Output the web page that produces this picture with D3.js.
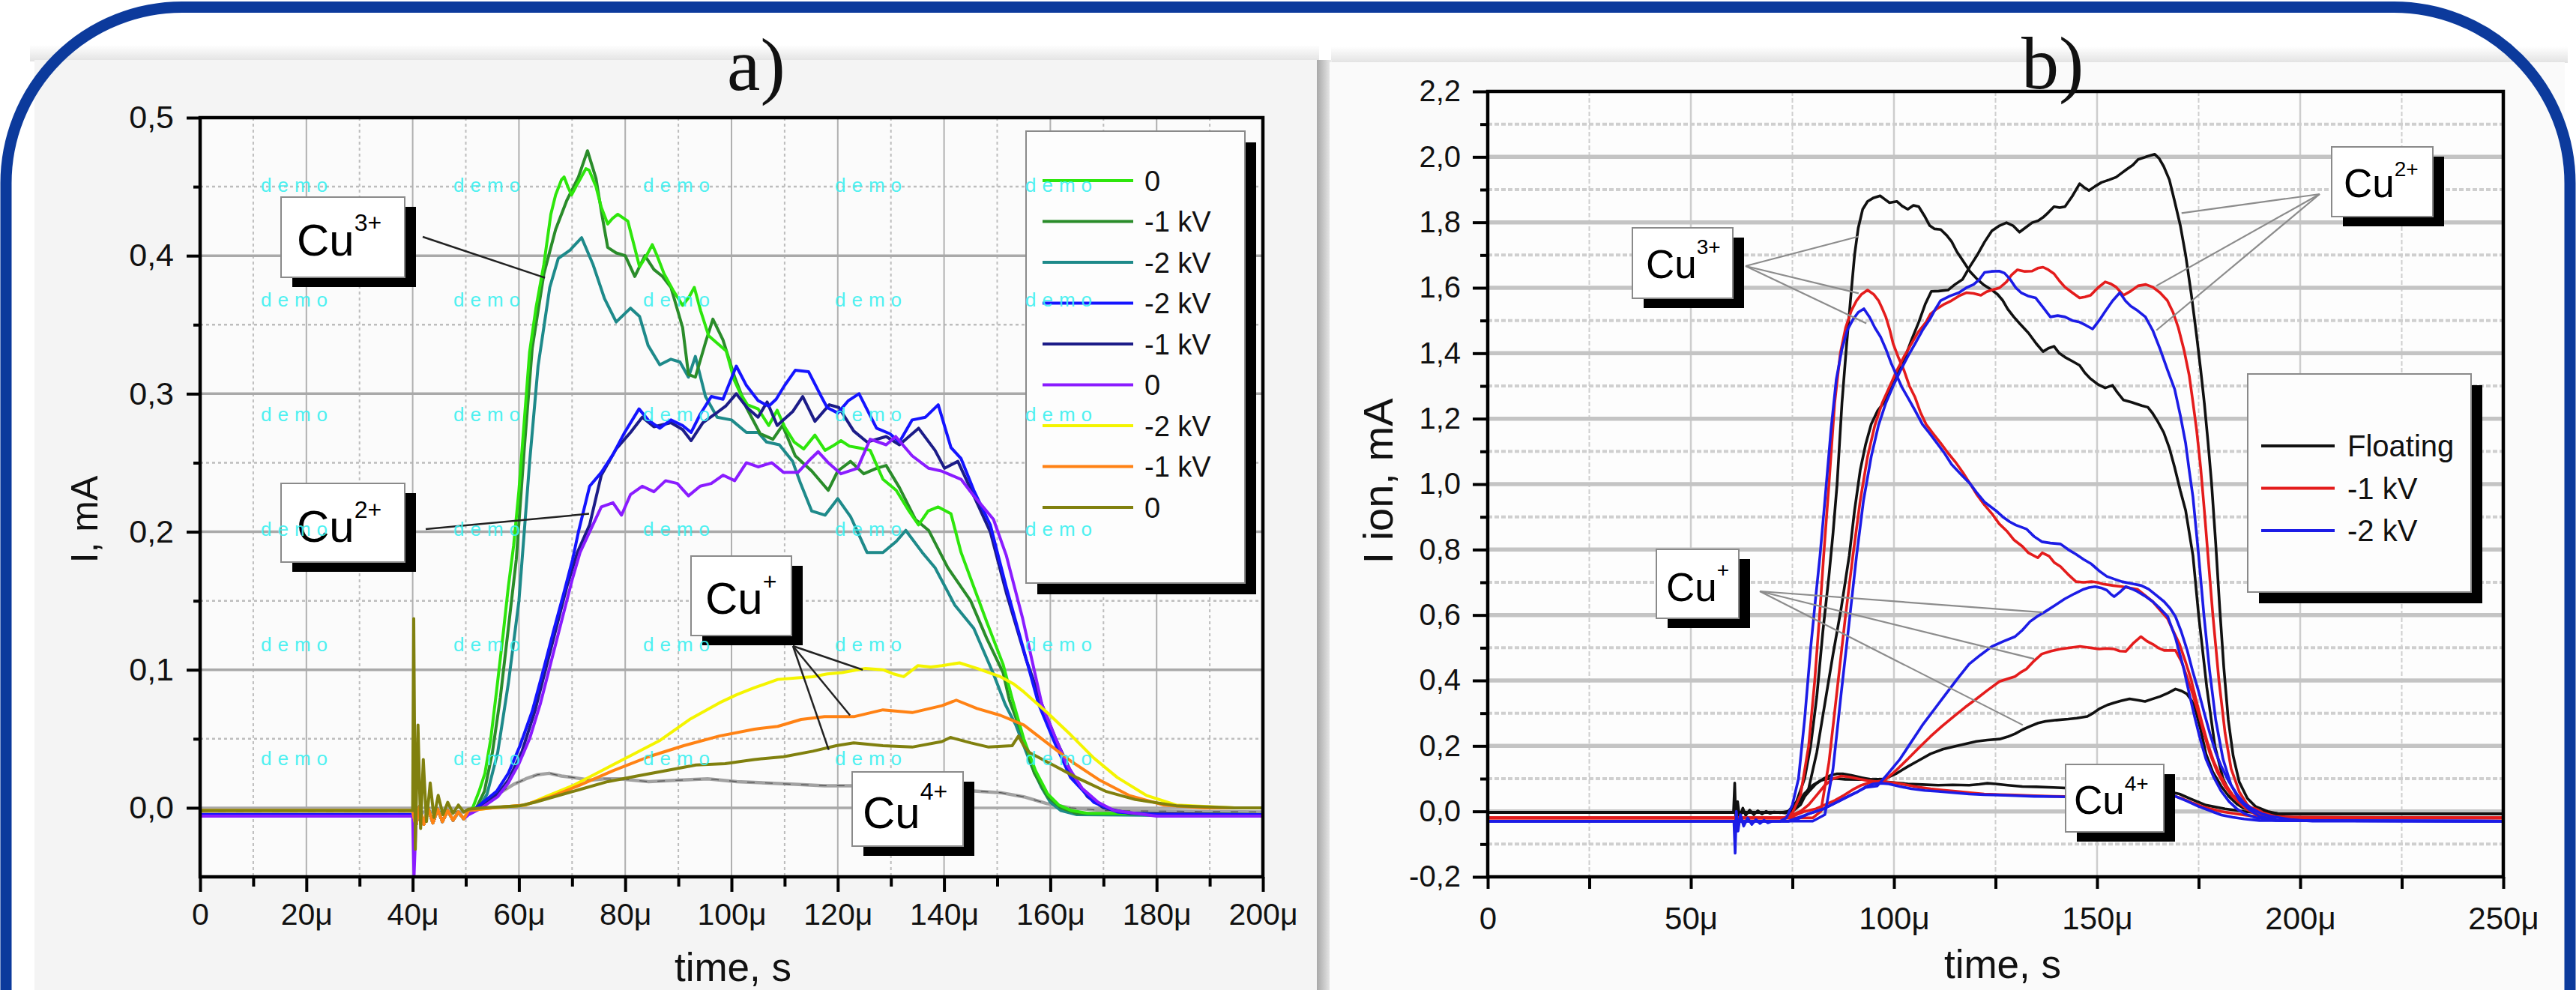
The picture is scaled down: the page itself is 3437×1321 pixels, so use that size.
<!DOCTYPE html>
<html><head><meta charset="utf-8">
<script src="https://cdn.jsdelivr.net/npm/d3@7"></script>
<style>html,body{margin:0;padding:0;background:#fff;overflow:hidden}</style>
</head><body>
<script>
// ================= DATA (time in µs, current in mA) =================
// ---- Panel a ----
const xTicksA = [0,20,40,60,80,100,120,140,160,180,200];
const xMinorA = [10,30,50,70,90,110,130,150,170,190];
const yTicksA = [0,0.1,0.2,0.3,0.4,0.5];
const yMinorA = [0.05,0.15,0.25,0.35,0.45];
const legendA = ["0","-1 kV","-2 kV","-2 kV","-1 kV","0","-2 kV","-1 kV","0"];
const ringA = [[40.6,-0.013],[41.3,0.001],[42.1,-0.012],[42.9,0.0],[43.8,-0.011],[44.7,-0.001],[45.6,-0.010],[46.6,-0.002],[47.6,-0.009],[48.6,-0.003],[49.6,-0.008]];
const a_green = [[0,-0.005],[40,-0.005],...ringA,[50.5,-0.004],[51.4,0.001],[52.5,0.012],[53.6,0.025],[54.7,0.05],[55.8,0.085],[57,0.125],[58,0.16],[59,0.19],[60,0.23],[61,0.28],[62,0.33],[63.2,0.362],[64.7,0.394],[66,0.43],[66.9,0.444],[68,0.455],[68.5,0.457],[69.2,0.45],[69.9,0.444],[71,0.452],[72.6,0.463],[73.2,0.462],[74.5,0.45],[75.5,0.435],[76.7,0.423],[77.6,0.427],[78.6,0.43],[80.5,0.425],[81.5,0.41],[82.7,0.392],[84,0.4],[85.1,0.408],[86,0.4],[87.3,0.387],[89,0.375],[90.8,0.364],[92,0.37],[93,0.377],[94.2,0.36],[95.7,0.342],[97.2,0.337],[99,0.331],[100.5,0.31],[101.7,0.3],[103,0.292],[105,0.289],[107,0.277],[108.6,0.288],[110,0.276],[111.8,0.265],[113.6,0.26],[115.7,0.27],[117.6,0.259],[119,0.262],[120.6,0.266],[122.2,0.262],[123.7,0.261],[126.1,0.259],[128.5,0.238],[131,0.23],[133.4,0.215],[135.2,0.205],[137,0.215],[138.9,0.218],[141.3,0.213],[143.2,0.185],[145.6,0.16],[148,0.135],[151.1,0.104],[152.9,0.078],[155,0.05],[157.2,0.027],[159.5,0.01],[161.6,0.002],[164,-0.002],[167,-0.004],[200,-0.005]];
const a_dkgreen = [[0,-0.005],[40,-0.005],...ringA,[50.5,-0.004],[52,0.0],[53.5,0.012],[55,0.04],[56.5,0.08],[58,0.13],[59.5,0.18],[61,0.26],[62.5,0.333],[64.7,0.387],[66.9,0.419],[69,0.44],[71.2,0.457],[72.9,0.476],[74.5,0.456],[75.6,0.43],[76.7,0.406],[78.3,0.402],[80,0.4],[81.8,0.385],[83.7,0.4],[85.4,0.39],[87,0.385],[88.6,0.377],[90.8,0.348],[91.9,0.314],[93.2,0.312],[95.1,0.337],[96.5,0.354],[98.4,0.339],[100.6,0.312],[102.8,0.29],[105.4,0.271],[107.8,0.267],[109.6,0.277],[112,0.255],[115.1,0.244],[118.2,0.23],[120,0.244],[122.4,0.251],[124.9,0.242],[127.3,0.246],[129.1,0.248],[131.6,0.232],[134.6,0.209],[137.1,0.201],[140.7,0.174],[145,0.15],[148,0.123],[151.1,0.098],[152.3,0.078],[154.5,0.055],[157,0.025],[159.5,0.008],[162,0.0],[165,-0.004],[200,-0.005]];
const a_teal = [[0,-0.005],[40,-0.005],...ringA,[50.5,-0.004],[52.5,0.0],[54,0.01],[56,0.04],[58,0.09],[60,0.15],[62,0.25],[63.6,0.32],[65.8,0.377],[67.4,0.398],[69.6,0.404],[71.8,0.413],[73.9,0.394],[76.1,0.369],[78.3,0.352],[81,0.362],[82.7,0.356],[84.3,0.335],[86.5,0.321],[88.6,0.325],[90.3,0.323],[91.9,0.312],[93.2,0.327],[95.1,0.298],[97.3,0.283],[100,0.281],[102.8,0.272],[105,0.272],[106.6,0.265],[109,0.263],[111.5,0.251],[113,0.235],[115.1,0.215],[117.6,0.212],[120,0.224],[122.4,0.211],[125.5,0.185],[128.5,0.185],[131,0.193],[132.8,0.201],[135.9,0.185],[138.3,0.174],[142,0.147],[145.6,0.13],[149.3,0.097],[151.5,0.075],[153.5,0.06],[155,0.045],[156.5,0.03],[158.3,0.015],[160,0.004],[162,-0.002],[165,-0.005],[200,-0.006]];
const a_blue = [[0,-0.005],[40,-0.005],...ringA,[50.5,-0.004],[52,0.0],[55.8,0.012],[58,0.025],[60.2,0.045],[62.5,0.07],[64.6,0.1],[66.5,0.128],[68.4,0.155],[70.1,0.18],[71.2,0.2],[73.3,0.233],[75.5,0.243],[77.7,0.256],[79.9,0.272],[82.6,0.289],[84.3,0.281],[86.5,0.275],[88.6,0.281],[90.8,0.277],[92.4,0.272],[94.1,0.285],[96.2,0.298],[98.4,0.296],[100.9,0.32],[102.8,0.306],[105,0.295],[107,0.291],[108.4,0.296],[110,0.306],[112,0.317],[114.5,0.316],[116.9,0.298],[118,0.29],[120,0.286],[122,0.295],[124,0.3],[127.3,0.275],[129.8,0.271],[131.6,0.265],[134,0.281],[136.5,0.283],[138.9,0.292],[141.3,0.261],[143.2,0.253],[145.6,0.23],[148.7,0.205],[151.7,0.16],[154.8,0.117],[157.8,0.075],[160.5,0.05],[163.8,0.022],[168.2,0.004],[172.6,-0.003],[180,-0.005],[200,-0.005]];
const a_navy = [[0,-0.005],[40,-0.005],...ringA,[50.5,-0.004],[52,0.0],[56,0.01],[58,0.02],[60.5,0.04],[63,0.07],[65,0.1],[67,0.13],[69,0.16],[71,0.185],[73.3,0.205],[75.5,0.241],[78.3,0.26],[81,0.272],[83.2,0.283],[85.4,0.276],[88.6,0.279],[90.8,0.274],[92.4,0.266],[94.6,0.279],[96.8,0.285],[98.9,0.291],[100.9,0.3],[102.9,0.29],[105,0.283],[106.7,0.294],[108.6,0.277],[111.5,0.287],[113.4,0.298],[115.7,0.28],[118.4,0.292],[120.2,0.29],[123,0.273],[125.5,0.265],[129.1,0.269],[131.6,0.263],[135.2,0.275],[138.3,0.259],[140.1,0.246],[142.6,0.251],[145.6,0.226],[148.7,0.2],[151.7,0.156],[155.4,0.108],[158.4,0.075],[161,0.05],[164,0.025],[167,0.008],[170,0.0],[175,-0.004],[200,-0.005]];
const a_violet = [[0,-0.006],[40,-0.006],[40.25,-0.05],...ringA,[50.5,-0.005],[53,0.0],[56,0.008],[58,0.018],[60,0.032],[62,0.05],[64,0.075],[66,0.105],[68,0.135],[70,0.165],[71.5,0.185],[73.3,0.2],[75.5,0.218],[77.7,0.221],[79.3,0.212],[81,0.227],[83.2,0.233],[85.4,0.229],[87.6,0.237],[89.8,0.235],[91.9,0.226],[94.1,0.233],[96.2,0.235],[98.4,0.241],[100.6,0.237],[102.8,0.25],[105,0.247],[107.6,0.25],[109.8,0.243],[112.5,0.243],[114.7,0.252],[116.3,0.258],[118.2,0.25],[120.6,0.242],[123.7,0.246],[126.1,0.267],[129.1,0.263],[130.9,0.269],[134,0.255],[137.1,0.246],[139.5,0.244],[143.2,0.238],[145.6,0.226],[149.3,0.209],[151.7,0.183],[154.8,0.137],[158.4,0.075],[160.5,0.055],[163,0.032],[166,0.014],[169,0.004],[172,-0.002],[180,-0.006],[200,-0.006]];
const a_yellow = [[0,-0.002],[40,-0.002],...ringA,[50.5,-0.002],[55,0.0],[61.3,0.002],[65,0.008],[70.1,0.016],[75.6,0.027],[81.1,0.038],[86.6,0.049],[92.1,0.064],[97.7,0.076],[101,0.082],[104.3,0.087],[108.7,0.093],[112,0.094],[115.3,0.095],[118,0.097],[120.8,0.098],[125.2,0.101],[128.5,0.1],[130.5,0.097],[132.4,0.095],[135.1,0.103],[137.5,0.102],[139.6,0.103],[142.9,0.105],[146.2,0.101],[150.6,0.095],[153,0.09],[155,0.084],[159.4,0.069],[163.8,0.053],[168.2,0.036],[172.6,0.022],[178.1,0.009],[183.7,0.002],[194.7,0.0],[200,0.0]];
const a_orange = [[0,-0.002],[40,-0.002],...ringA,[50.5,-0.002],[55,0.0],[61,0.002],[66,0.008],[71.2,0.016],[77.8,0.027],[84.4,0.037],[91,0.045],[97.7,0.052],[104.3,0.057],[108.7,0.059],[113.1,0.064],[117.5,0.066],[123,0.066],[128.5,0.071],[134,0.069],[139.6,0.074],[142.3,0.078],[146.2,0.072],[150.6,0.067],[155,0.06],[159.4,0.047],[163.8,0.034],[169.3,0.02],[174.8,0.009],[181.4,0.002],[189,0.0],[200,0.0]];
const a_olive = [[0,-0.002],[40,-0.002],[40.2,0.137],[40.5,-0.03],[41,0.06],[41.5,-0.015],[42,0.035],[42.6,-0.01],[43.3,0.018],[44,-0.007],[44.8,0.009],[45.7,-0.005],[46.6,0.004],[47.6,-0.004],[48.6,0.002],[49.6,-0.003],[50.5,-0.001],[53,0.0],[60.2,0.0015],[63,0.004],[65.7,0.007],[71.2,0.013],[76.7,0.019],[82.2,0.023],[87.7,0.027],[93.3,0.031],[98.8,0.032],[104.3,0.035],[109.8,0.037],[115.3,0.041],[119.7,0.045],[123,0.047],[128.5,0.045],[134,0.044],[139.6,0.048],[141.2,0.051],[145.1,0.047],[148.4,0.044],[152.8,0.045],[154,0.052],[155,0.045],[156.1,0.04],[160.5,0.031],[164.9,0.022],[170.4,0.012],[176,0.006],[183.7,0.0015],[194.7,0.0],[200,0.0]];
const a_cu4 = [[0,-0.003],[50,-0.003],[52,0.0],[54,0.005],[56.9,0.012],[59,0.017],[61.3,0.021],[63.5,0.024],[65.7,0.025],[68,0.023],[70.1,0.022],[73.4,0.02],[76,0.021],[78.9,0.021],[84.4,0.019],[90,0.02],[95.5,0.021],[101,0.019],[106.5,0.018],[112,0.017],[117.5,0.016],[123,0.016],[130,0.015],[138,0.014],[146.2,0.012],[150.6,0.011],[155,0.008],[159.4,0.003],[163.8,0.0],[170,-0.002],[200,-0.003]];

// ---- Panel b ----
const xTicksB = [0,50,100,150,200,250];
const xMinorB = [25,75,125,175,225];
const yTicksB = [-0.2,0,0.2,0.4,0.6,0.8,1.0,1.2,1.4,1.6,1.8,2.0,2.2];
const yMinorB = [-0.1,0.1,0.3,0.5,0.7,0.9,1.1,1.3,1.5,1.7,1.9,2.1];
const legendB = ["Floating","-1 kV","-2 kV"];
const b_float_cu3 = [[0,-0.003],[60.5,-0.003],[60.8,0.087],[61.1,-0.05],[61.5,0.03],[62,-0.02],[62.8,0.01],[63.5,-0.012],[64.5,0.004],[65.5,-0.01],[66.5,0.002],[67.5,-0.008],[68.5,0.0],[69.5,-0.006],[70.5,-0.002],[72,-0.004],[74,0.0],[76,0.03],[78,0.1],[79.5,0.2],[81,0.35],[82.5,0.55],[84,0.72],[85,0.85],[86,1.0],[87.2,1.248],[88.3,1.42],[89.4,1.577],[90.3,1.7],[91.2,1.782],[92.3,1.84],[93.5,1.864],[95,1.875],[96.6,1.881],[97.8,1.87],[98.9,1.86],[100.7,1.864],[102,1.85],[103.4,1.84],[104.8,1.852],[106.1,1.848],[107.5,1.82],[108.8,1.79],[110,1.78],[111.5,1.778],[113,1.76],[114.2,1.741],[115.5,1.71],[116.9,1.684],[118.7,1.65],[120.5,1.626],[122,1.61],[124.1,1.593],[125.5,1.58],[126.8,1.561],[128,1.535],[129.5,1.511],[131,1.49],[133.1,1.462],[135,1.43],[136.7,1.405],[138,1.415],[139.4,1.421],[140.7,1.4],[142.1,1.388],[144,1.375],[145.7,1.363],[147,1.34],[148.4,1.322],[150.2,1.305],[152,1.294],[153.8,1.302],[155,1.28],[156.5,1.257],[158.5,1.25],[161,1.24],[162.5,1.235],[163.7,1.216],[165,1.19],[166.4,1.158],[167.8,1.11],[169.1,1.051],[170.5,0.98],[171.8,0.92],[173.6,0.782],[175,0.6],[177,0.38],[179,0.2],[181,0.1],[183,0.05],[186,0.02],[190,0.0],[195,-0.008],[250,-0.008]];
const b_float_cu2 = [[0,-0.003],[72,-0.003],[75,0.0],[77,0.02],[79,0.07],[81,0.18],[83,0.33],[85,0.48],[87,0.62],[89,0.782],[90.3,0.92],[91.7,1.043],[93,1.12],[94.4,1.183],[96,1.225],[98,1.257],[100,1.31],[102.5,1.38],[104.3,1.44],[106.1,1.495],[107.7,1.55],[109.2,1.589],[111,1.59],[113.3,1.593],[115,1.61],[116.9,1.626],[118.7,1.665],[120.5,1.7],[122.3,1.74],[124.1,1.774],[126,1.79],[127.7,1.799],[129.3,1.79],[130.9,1.77],[132.5,1.785],[134,1.799],[135.5,1.805],[136.7,1.815],[138,1.83],[139.4,1.848],[140.8,1.845],[142.1,1.848],[143.9,1.88],[145.7,1.918],[147,1.905],[148,1.897],[149.5,1.91],[151.1,1.922],[153,1.93],[154.7,1.938],[156,1.95],[157.4,1.963],[158.8,1.975],[160.1,1.992],[162,2.0],[164.2,2.008],[165.3,1.995],[166.4,1.971],[167.8,1.93],[169.1,1.864],[170.5,1.79],[171.8,1.7],[173.2,1.58],[174.5,1.454],[175.5,1.35],[176.4,1.248],[177.3,1.13],[178.2,1.0],[179.2,0.82],[180.2,0.62],[181.2,0.44],[182.3,0.28],[183.5,0.17],[185,0.09],[187,0.04],[189,0.015],[192,0.0],[195,-0.008],[250,-0.008]];
const b_float_cu1 = [[0,-0.003],[74,-0.003],[76,0.02],[78,0.055],[80,0.08],[82,0.095],[84,0.1],[86,0.1],[88,0.098],[92,0.097],[97.7,0.099],[100.5,0.115],[103.4,0.137],[106,0.155],[109,0.176],[112,0.19],[114.7,0.198],[117.5,0.206],[120.3,0.214],[123,0.218],[126,0.221],[128,0.228],[129.8,0.237],[131.7,0.25],[133.5,0.26],[135.5,0.27],[137.3,0.275],[140,0.279],[142.9,0.282],[145,0.285],[147.6,0.29],[149,0.3],[150.5,0.313],[152.5,0.325],[154.2,0.332],[156,0.338],[158,0.344],[160,0.34],[161.8,0.336],[163.5,0.343],[165.5,0.351],[167.5,0.362],[169.3,0.374],[170.8,0.368],[172.1,0.359],[173.2,0.34],[174,0.321],[175.5,0.25],[176.8,0.176],[178.5,0.12],[180.6,0.076],[182.5,0.045],[184.4,0.023],[186,0.01],[188.1,0.004],[191,-0.003],[195,-0.008],[250,-0.008]];
const b_float_cu4 = [[0,-0.003],[72,-0.003],[73.3,-0.005],[75,0.01],[77,0.031],[79,0.06],[80.8,0.084],[82.7,0.1],[84.6,0.111],[86,0.115],[87.4,0.115],[89.5,0.11],[92.1,0.103],[94.5,0.097],[96.8,0.092],[100,0.088],[103.4,0.084],[107,0.082],[110.9,0.08],[114.5,0.081],[118.5,0.08],[121,0.083],[123,0.086],[125,0.084],[128,0.08],[131.6,0.076],[135,0.075],[139.2,0.073],[145,0.07],[150,0.068],[155,0.066],[160,0.064],[164,0.065],[167.4,0.061],[170.3,0.053],[173.1,0.038],[176.8,0.019],[181.5,0.008],[186.2,0.0],[190,-0.005],[195,-0.008],[250,-0.008]];
const b_1kv_cu3 = [[0,-0.02],[73,-0.02],[75,-0.005],[77,0.05],[79,0.2],[80.5,0.4],[81.7,0.6],[82.7,0.782],[84,1.0],[85.4,1.248],[86.8,1.4],[88.1,1.478],[89.5,1.53],[90.8,1.561],[92,1.58],[93.5,1.593],[95,1.58],[96.2,1.561],[97,1.54],[98,1.511],[99,1.47],[99.8,1.429],[101,1.39],[102.5,1.347],[103.8,1.3],[105.2,1.265],[106.5,1.22],[107.9,1.183],[109.6,1.155],[111.5,1.125],[113.3,1.095],[115.1,1.068],[117,1.035],[118.7,1.002],[120.3,0.97],[122.3,0.936],[124.1,0.91],[125.9,0.879],[127.9,0.855],[129.5,0.83],[131.6,0.81],[133.1,0.79],[135.4,0.775],[136.5,0.79],[138.2,0.78],[139.5,0.76],[141,0.748],[142.8,0.725],[144.8,0.702],[146.7,0.7],[148.6,0.702],[150,0.7],[151.4,0.695],[154,0.69],[156.1,0.687],[158,0.683],[159.9,0.679],[161.8,0.66],[163.7,0.641],[165.5,0.615],[167.4,0.588],[168.8,0.55],[170.3,0.511],[171.7,0.46],[173.1,0.405],[174.5,0.335],[175.9,0.267],[177.3,0.205],[178.7,0.153],[180.1,0.115],[181.5,0.084],[183.4,0.05],[185.3,0.031],[187,0.015],[189,0.008],[191,-0.005],[193.8,-0.015],[200,-0.02],[250,-0.02]];
const b_1kv_cu2 = [[0,-0.02],[80,-0.02],[82,0.0],[84,0.15],[86,0.37],[88,0.59],[89.9,0.782],[91.7,0.95],[93.5,1.084],[95.3,1.18],[97.1,1.248],[99,1.3],[100.7,1.347],[102.5,1.39],[104.3,1.429],[106,1.465],[107.9,1.495],[109,1.52],[110.6,1.536],[112.4,1.55],[114.2,1.561],[116,1.575],[117.8,1.585],[119.6,1.583],[121.4,1.577],[122.8,1.588],[124.1,1.593],[126,1.6],[127.7,1.618],[129,1.64],[130.4,1.655],[132.2,1.65],[134,1.651],[135.4,1.66],[136.7,1.663],[138,1.655],[139.4,1.643],[140.8,1.62],[142.1,1.602],[143.9,1.585],[145.7,1.569],[147,1.572],[148.4,1.577],[150.2,1.6],[152,1.618],[153.4,1.612],[154.7,1.602],[156.5,1.577],[158.3,1.59],[160.1,1.606],[162,1.61],[163.7,1.602],[165.5,1.585],[167.3,1.561],[168.7,1.525],[170,1.478],[171.4,1.41],[172.7,1.331],[173.6,1.25],[174.5,1.166],[175.5,1.05],[176.4,0.92],[177.3,0.782],[178.5,0.6],[180,0.4],[181.5,0.24],[183,0.13],[185,0.06],[187,0.02],[189,0.0],[192,-0.015],[197,-0.02],[250,-0.02]];
const b_1kv_cu1 = [[0,-0.02],[74,-0.02],[76,-0.01],[78,0.0],[80.8,0.008],[83,0.02],[85.5,0.034],[87.8,0.05],[90.2,0.069],[92,0.08],[94,0.088],[95.5,0.09],[97.7,0.095],[100.5,0.125],[103.4,0.16],[106.2,0.195],[109,0.229],[111.8,0.26],[114.7,0.29],[117.5,0.318],[120.3,0.344],[123,0.37],[126,0.397],[128,0.405],[129.8,0.412],[131.2,0.425],[132.6,0.435],[134.5,0.46],[136.4,0.481],[138.7,0.49],[141,0.496],[143.4,0.5],[145.8,0.504],[148.2,0.5],[150.5,0.496],[152.4,0.498],[154.2,0.496],[155.6,0.49],[157.1,0.489],[159,0.515],[160.8,0.534],[162.3,0.52],[163.7,0.511],[165,0.5],[166.5,0.492],[168,0.492],[169.3,0.492],[170.7,0.46],[172.1,0.412],[173.5,0.36],[175,0.298],[176.4,0.235],[177.8,0.176],[179.6,0.12],[181.5,0.076],[183.4,0.045],[185.3,0.023],[187,0.005],[189,-0.008],[193,-0.018],[250,-0.02]];
const b_1kv_cu4 = [[0,-0.02],[74,-0.02],[75.1,-0.01],[77,0.0],[79,0.02],[81,0.05],[83,0.08],[85,0.1],[87,0.108],[89,0.105],[91,0.1],[93.5,0.094],[95.8,0.091],[97.7,0.09],[100.5,0.087],[103.4,0.08],[106,0.074],[109,0.069],[112,0.065],[115.6,0.061],[118.8,0.057],[122.2,0.053],[126,0.051],[129.8,0.05],[134.5,0.048],[139.2,0.046],[145,0.045],[150,0.044],[156,0.046],[160,0.05],[164,0.055],[167.4,0.053],[169.3,0.046],[171.2,0.038],[173.5,0.026],[175.9,0.015],[178.2,0.007],[180.6,0.0],[183.4,-0.006],[186.2,-0.011],[190,-0.017],[250,-0.02]];
const b_2kv_cu3 = [[0,-0.03],[60.6,-0.03],[60.9,-0.128],[61.2,0.0],[61.6,-0.06],[62.2,-0.01],[63,-0.045],[64,-0.02],[65,-0.04],[66,-0.025],[67,-0.037],[68,-0.027],[69,-0.035],[70,-0.03],[72,-0.03],[73.5,-0.02],[75,0.02],[76.5,0.1],[78,0.28],[79.5,0.5],[80.7,0.65],[81.8,0.782],[83,0.95],[84.5,1.166],[85.8,1.32],[87.2,1.413],[88.5,1.47],[89.9,1.503],[91.2,1.525],[92.6,1.536],[94,1.51],[95.3,1.478],[96.7,1.45],[98,1.413],[99.3,1.37],[100.7,1.331],[102,1.295],[103.4,1.265],[105.2,1.225],[107,1.183],[108.8,1.155],[110.6,1.125],[112.4,1.095],[114.2,1.06],[116.5,1.03],[118.7,1.002],[120.3,0.975],[122.3,0.945],[125,0.92],[126.8,0.9],[128.5,0.885],[130,0.875],[132.6,0.863],[134.5,0.84],[136.4,0.824],[138.5,0.82],[141,0.817],[142.9,0.8],[144.8,0.786],[146.7,0.77],[148.6,0.756],[150.5,0.735],[152.4,0.718],[154.2,0.71],[156.1,0.702],[159,0.695],[160.9,0.69],[162.7,0.679],[164.6,0.66],[166.5,0.641],[168,0.62],[169.3,0.595],[170.7,0.55],[172.1,0.496],[173.5,0.43],[175,0.366],[176.4,0.3],[177.8,0.237],[179.2,0.18],[180.6,0.137],[182.5,0.09],[184.4,0.053],[186.2,0.025],[188.1,0.008],[190.5,-0.007],[192.8,-0.015],[197.6,-0.025],[203,-0.03],[250,-0.03]];
const b_2kv_cu2 = [[0,-0.03],[80,-0.03],[83,-0.01],[85,0.13],[87,0.36],[89,0.58],[90.8,0.782],[92.5,0.95],[94.4,1.084],[96.2,1.18],[98,1.248],[99.8,1.3],[101.6,1.347],[103.4,1.39],[105.2,1.429],[107,1.47],[108.8,1.503],[110.2,1.535],[111.5,1.561],[113.8,1.575],[116,1.585],[117.8,1.6],[119.6,1.61],[121,1.625],[122.3,1.647],[124,1.65],[125.9,1.651],[127.2,1.645],[128.6,1.626],[130,1.6],[131.3,1.585],[133,1.575],[134.9,1.569],[136.7,1.54],[138.5,1.511],[140.3,1.515],[142.1,1.511],[143.9,1.5],[145.7,1.495],[147.3,1.485],[148.9,1.474],[150.5,1.5],[152,1.528],[153.8,1.56],[155.6,1.585],[157,1.56],[158.3,1.544],[160,1.53],[161.9,1.511],[163.7,1.47],[165.5,1.413],[167.3,1.35],[169.1,1.29],[170.5,1.21],[171.8,1.125],[172.7,1.04],[173.6,0.961],[175,0.782],[176.3,0.6],[177.7,0.43],[179.2,0.28],[181,0.16],[183,0.08],[185,0.035],[187.5,0.005],[190,-0.015],[195,-0.028],[250,-0.03]];
const b_2kv_cu1 = [[0,-0.03],[74,-0.03],[76,-0.025],[78.9,-0.008],[82.7,0.008],[86.4,0.031],[89,0.048],[91.2,0.061],[93,0.073],[94.9,0.076],[95.9,0.078],[98.7,0.118],[101.5,0.16],[104.3,0.213],[107.2,0.267],[110,0.313],[112.8,0.359],[115.6,0.405],[118.5,0.45],[121.3,0.478],[124.1,0.504],[127,0.52],[129.8,0.534],[131.7,0.555],[133.5,0.58],[135.4,0.597],[137.3,0.611],[139.7,0.63],[142,0.649],[144.4,0.665],[146.7,0.679],[148,0.684],[149.5,0.687],[151,0.683],[152.4,0.676],[153.3,0.665],[154.2,0.656],[155.6,0.67],[157.1,0.687],[158.5,0.68],[159.9,0.672],[161.8,0.658],[163.7,0.641],[165.5,0.62],[167.4,0.595],[169.3,0.53],[171.2,0.443],[172.6,0.365],[174,0.29],[175.4,0.22],[176.8,0.16],[178.7,0.105],[180.6,0.061],[182.5,0.03],[184.4,0.008],[186.5,-0.008],[189,-0.019],[194,-0.028],[250,-0.03]];
const b_2kv_cu4 = [[0,-0.03],[74,-0.03],[78.9,-0.008],[82.7,0.008],[86.4,0.031],[88.8,0.046],[91.2,0.061],[93,0.075],[94.9,0.084],[96.8,0.086],[98.7,0.084],[101.5,0.076],[104.3,0.069],[107.6,0.064],[110.9,0.061],[114.7,0.057],[118.5,0.053],[122.2,0.051],[126,0.05],[130,0.048],[134.5,0.046],[140,0.045],[145,0.044],[150,0.043],[155,0.044],[160,0.047],[165,0.048],[169.3,0.046],[172,0.032],[175,0.015],[177.8,0.002],[180.6,-0.011],[183.4,-0.018],[186.2,-0.023],[190,-0.028],[250,-0.03]];

// ================= STYLE =================
const FONT = "'Liberation Sans', Arial, Helvetica, sans-serif";
const SERIF = "'Liberation Serif', 'Times New Roman', serif";
const colorsA = ["#2ee60c","#2a8c2a","#1e8a8a","#1414ff","#1c1c88","#8a1cff","#f4f400","#ff8214","#80800e"];
const colorsB = ["#111111","#e41c1c","#1c1ce6"];
const seriesA = [a_green,a_dkgreen,a_teal,a_blue,a_navy,a_violet,a_yellow,a_orange,a_olive];
const drawOrderA = [2,1,0,4,3,5,6,7,8];
const groupsB = [
  [b_float_cu3,b_float_cu2,b_float_cu1,b_float_cu4],
  [b_1kv_cu3,b_1kv_cu2,b_1kv_cu1,b_1kv_cu4],
  [b_2kv_cu3,b_2kv_cu2,b_2kv_cu1,b_2kv_cu4]
];

const W = 3437, H = 1321;
const svg = d3.select("body").append("svg").attr("width",W).attr("height",H)
  .attr("viewBox",`0 0 ${W} ${H}`).style("display","block");
const defs = svg.append("defs");
function hgrad(id, stops){ const g = defs.append("linearGradient").attr("id",id).attr("x1","0").attr("x2","1").attr("y1","0").attr("y2","0");
  stops.forEach(s=>g.append("stop").attr("offset",s[0]).attr("stop-color",s[1])); }
function vgrad(id, stops){ const g = defs.append("linearGradient").attr("id",id).attr("x1","0").attr("x2","0").attr("y1","0").attr("y2","1");
  stops.forEach(s=>g.append("stop").attr("offset",s[0]).attr("stop-color",s[1])); }
hgrad("shadeR",[[0,"#a8a8a8"],[1,"#efefef"]]);
vgrad("shadeT",[[0,"#ffffff"],[1,"#e2e2e2"]]);

svg.append("rect").attr("width",W).attr("height",H).attr("fill","#fff");

// ---- cards ----
svg.append("rect").attr("x",40).attr("y",60).attr("width",1720).attr("height",22).attr("fill","url(#shadeT)");
svg.append("rect").attr("x",1776).attr("y",62).attr("width",1650).attr("height",22).attr("fill","url(#shadeT)");
svg.append("rect").attr("x",46).attr("y",80).attr("width",1711).attr("height",1241).attr("fill","#f4f4f4");
svg.append("rect").attr("x",1757).attr("y",80).attr("width",20).attr("height",1241).attr("fill","url(#shadeR)");
svg.append("rect").attr("x",1774).attr("y",83).attr("width",1648).attr("height",1238).attr("fill","#fafafa");

// ---- scales ----
const xA = d3.scaleLinear().domain([0,200]).range([267,1685]);
const yA = d3.scaleLinear().domain([-0.05,0.5]).range([1170,157]);
const xB = d3.scaleLinear().domain([0,250]).range([1985,3340]);
const yB = d3.scaleLinear().domain([-0.2,2.2]).range([1170,122]);
const fmtNum = d => d3.format(".1f")(d).replace("\u2212","-").replace(".",",");
const fmtT = d => d===0 ? "0" : d + "\u03bc";

function plotArea(x, y, fill, id){
  const [x0,x1] = x.range(), [y1,y0] = y.range();
  svg.append("rect").attr("x",x0).attr("y",y0).attr("width",x1-x0).attr("height",y1-y0).attr("fill",fill);
  defs.append("clipPath").attr("id",id).append("rect").attr("x",x0).attr("y",y0).attr("width",x1-x0).attr("height",y1-y0);
}
plotArea(xA,yA,"#fbfbfb","clipA");
plotArea(xB,yB,"#fdfdfd","clipB");

// ---- grids ----
function grid(x, y, xMaj, xMin, yMaj, yMin, st){
  const g = svg.append("g");
  const [x0,x1] = x.range(), [y1,y0] = y.range();
  g.selectAll(".vmin").data(xMin).join("line").attr("x1",d=>x(d)).attr("x2",d=>x(d)).attr("y1",y0).attr("y2",y1)
    .attr("stroke",st.minC).attr("stroke-width",st.vminW).attr("stroke-dasharray",st.dash);
  g.selectAll(".hmin").data(yMin).join("line").attr("y1",d=>y(d)).attr("y2",d=>y(d)).attr("x1",x0).attr("x2",x1)
    .attr("stroke",st.minC).attr("stroke-width",st.hminW).attr("stroke-dasharray",st.dash);
  g.selectAll(".vmaj").data(xMaj).join("line").attr("x1",d=>x(d)).attr("x2",d=>x(d)).attr("y1",y0).attr("y2",y1)
    .attr("stroke",st.majC).attr("stroke-width",st.vmajW);
  g.selectAll(".hmaj").data(yMaj).join("line").attr("y1",d=>y(d)).attr("y2",d=>y(d)).attr("x1",x0).attr("x2",x1)
    .attr("stroke",st.hmajC).attr("stroke-width",st.hmajW);
}
grid(xA,yA,xTicksA.slice(1,-1),xMinorA,yTicksA.slice(0,-1),yMinorA,
  {minC:"#bdbdbd",majC:"#b0b0b0",hmajC:"#a9a9a9",vminW:2,hminW:2.5,vmajW:2,hmajW:3.5,dash:"4,4"});
grid(xB,yB,xTicksB.slice(1,-1),xMinorB,yTicksB.slice(1,-1),yMinorB,
  {minC:"#cfcfcf",majC:"#cdcdcd",hmajC:"#c4c4c4",vminW:2,hminW:4,vmajW:2.5,hmajW:5.5,dash:"6,3"});

// ---- curves ----
const lineA = d3.line().x(d=>xA(d[0])).y(d=>yA(d[1]));
const lineB = d3.line().x(d=>xB(d[0])).y(d=>yB(d[1]));
const cA = svg.append("g").attr("clip-path","url(#clipA)").attr("fill","none").attr("stroke-linejoin","round");
cA.append("path").attr("d",lineA(a_cu4)).attr("stroke","#a2a2a2").attr("stroke-width",4.5);
cA.append("path").attr("d",lineA(a_cu4)).attr("stroke","#555").attr("stroke-width",1.2).attr("stroke-dasharray","10,14");
drawOrderA.forEach(i=>{
  cA.append("path").attr("d",lineA(seriesA[i])).attr("stroke",colorsA[i]).attr("stroke-width",4);
});
const cB = svg.append("g").attr("clip-path","url(#clipB)").attr("fill","none").attr("stroke-linejoin","round");
groupsB.forEach((grp,i)=>grp.forEach(s=>{
  cB.append("path").attr("d",lineB(s)).attr("stroke",colorsB[i]).attr("stroke-width",3.6);
}));

// ---- axes ----
function styleAxis(g, fs){
  g.select(".domain").remove();
  g.selectAll("line").attr("stroke","#000").attr("stroke-width",4);
  g.selectAll("text").attr("font-family",FONT).attr("font-size",fs).attr("fill","#111");
}
function axesFor(x, y, xT, xM, yT, yM, o){
  const [x0,x1] = x.range(), [y1,y0] = y.range();
  svg.append("g").attr("transform",`translate(${x0},0)`)
    .call(d3.axisLeft(y).tickValues(yT).tickFormat(fmtNum).tickSize(o.yMaj).tickPadding(o.yPad)).call(g=>styleAxis(g,o.yFs));
  svg.append("g").attr("transform",`translate(${x0},0)`)
    .call(d3.axisLeft(y).tickValues(yM).tickFormat("").tickSize(o.yMin)).call(g=>styleAxis(g,o.yFs));
  svg.append("g").attr("transform",`translate(0,${y1})`)
    .call(d3.axisBottom(x).tickValues(xT).tickFormat(fmtT).tickSize(o.xMaj).tickPadding(o.xPad)).call(g=>styleAxis(g,o.xFs));
  svg.append("g").attr("transform",`translate(0,${y1})`)
    .call(d3.axisBottom(x).tickValues(xM).tickFormat("").tickSize(o.xMin)).call(g=>styleAxis(g,o.xFs));
  svg.append("rect").attr("x",x0).attr("y",y0).attr("width",x1-x0).attr("height",y1-y0)
    .attr("fill","none").attr("stroke","#000").attr("stroke-width",4.5);
}
axesFor(xA,yA,xTicksA,xMinorA,yTicksA,yMinorA,{yMaj:18,yMin:9,yPad:17,yFs:43,xMaj:20,xMin:13,xPad:15,xFs:41});
axesFor(xB,yB,xTicksB,xMinorB,yTicksB,yMinorB,{yMaj:20,yMin:10,yPad:16,yFs:40,xMaj:16,xMin:16,xPad:24,xFs:42});

// ---- titles ----
function txt(x,y,s,fs,opt={}){
  return svg.append("text").attr("x",x).attr("y",y).text(s).attr("font-size",fs)
    .attr("font-family",opt.family||FONT).attr("text-anchor",opt.anchor||"start").attr("fill","#111")
    .attr("transform",opt.rot?`rotate(-90,${x},${y})`:null);
}
txt(970,120,"a)",100,{family:SERIF});
txt(2697,118,"b)",100,{family:SERIF});
txt(130,693,"I, mA",50,{anchor:"middle",rot:true});
txt(1858,642,"I ion, mA",56,{anchor:"middle",rot:true});
txt(978,1309,"time, s",53,{anchor:"middle"});
txt(2672,1305,"time, s",53,{anchor:"middle"});

// ---- annotation boxes ----
function cuBox(x,y,w,h,sup,fs,sfs,tx,tb,sdy){
  const g = svg.append("g");
  g.append("rect").attr("x",x+15).attr("y",y+13).attr("width",w).attr("height",h).attr("fill","#000");
  g.append("rect").attr("x",x).attr("y",y).attr("width",w).attr("height",h).attr("fill","#fff").attr("stroke","#8a8a8a").attr("stroke-width",2);
  const t = g.append("text").attr("x",x+tx).attr("y",y+tb).attr("font-size",fs).attr("font-family",FONT).attr("fill","#000");
  t.append("tspan").text("Cu");
  t.append("tspan").attr("font-size",sfs).attr("dy",-sdy).text(sup);
}
function leaders(apex, targets, x, y, color, w){
  targets.forEach(p=>svg.append("line").attr("x1",apex[0]).attr("y1",apex[1]).attr("x2",x(p[0])).attr("y2",y(p[1]))
    .attr("stroke",color).attr("stroke-width",w));
}
// panel a
leaders([564,316],[[64.9,0.384]],xA,yA,"#222",2.5);
leaders([568,706],[[73.2,0.213]],xA,yA,"#222",2.5);
leaders([1058,862],[[124.7,0.1],[122.3,0.067],[118.3,0.042]],xA,yA,"#222",2.5);
cuBox(375,263,165,107,"3+",60,32,21,78,33);
cuBox(375,645,165,105,"2+",60,32,21,78,32);
cuBox(922,742,134,106,"+",60,32,19,77,32);
cuBox(1137,1030,148,99,"4+",60,32,14,75,38);
// panel b
leaders([2329,355],[[91.3,1.757],[91.3,1.583],[93.2,1.491]],xB,yB,"#8c8c8c",2.2);
leaders([3095,259],[[170.8,1.828],[164.6,1.606],[164.6,1.47]],xB,yB,"#8c8c8c",2.2);
leaders([2348,789],[[136.7,0.608],[134.5,0.466],[131.7,0.264]],xB,yB,"#8c8c8c",2.2);
cuBox(2178,304,134,94,"3+",53,28,18,67,32);
cuBox(3111,196,135,93,"2+",53,28,16,67,28);
cuBox(2210,733,110,92,"+",53,28,13,69,32);
cuBox(2756,1020,131,90,"4+",53,28,11,66,31);

// ---- legends ----
function legend(x,y,w,h,labels,colors,ly0,dy,lx0,lx1,tx,fs){
  const g = svg.append("g");
  g.append("rect").attr("x",x+15).attr("y",y+15).attr("width",w).attr("height",h).attr("fill","#000");
  g.append("rect").attr("x",x).attr("y",y).attr("width",w).attr("height",h).attr("fill","#fdfdfd").attr("stroke","#8a8a8a").attr("stroke-width",2);
  labels.forEach((l,i)=>{
    const yy = ly0 + i*dy;
    g.append("line").attr("x1",lx0).attr("x2",lx1).attr("y1",yy).attr("y2",yy).attr("stroke",colors[i]).attr("stroke-width",4);
    g.append("text").attr("x",tx).attr("y",yy+fs*0.36).text(l).attr("font-family",FONT).attr("font-size",fs).attr("fill","#111");
  });
}
legend(1369,175,292,603,legendA,colorsA,241,54.5,1391,1512,1527,38);
legend(2999,499,298,291,legendB,colorsB,595,56.5,3017,3115,3132,40);

// ---- watermark ----
const wmX = [348,605,858,1114,1368], wmY = [247,400,553,706,860,1012];
const wm = svg.append("g").attr("font-family",FONT).attr("font-size",26).attr("fill","#3cf0f0").attr("letter-spacing",8).attr("opacity",0.9);
wmY.forEach(yy=>wmX.forEach(xx=>wm.append("text").attr("x",xx).attr("y",yy+9).text("demo")));

// ---- outer blue frame ----
svg.append("rect").attr("x",8).attr("y",9.5).attr("width",3421).attr("height",1700).attr("rx",235).attr("ry",235)
  .attr("fill","none").attr("stroke","#0c3a9c").attr("stroke-width",15);
</script>
</body></html>
